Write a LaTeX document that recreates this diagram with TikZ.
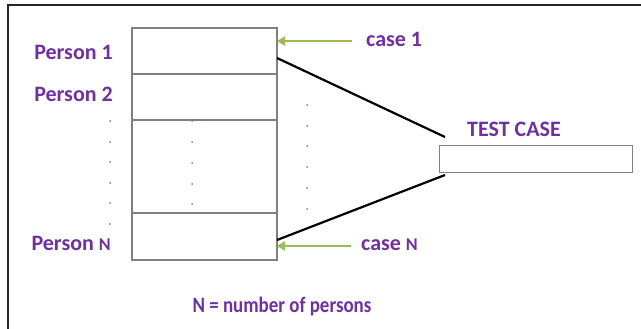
\documentclass[tikz,border=0pt]{standalone}
\usepackage{fontspec}
\setmainfont{Carlito}
\usetikzlibrary{arrows.meta}
\definecolor{lbl}{HTML}{7030A0}
\definecolor{arr}{HTML}{9BBB59}
\definecolor{grid}{HTML}{808080}
\definecolor{dotc}{HTML}{8C7A6A}
\newcommand{\smallN}{{\fontsize{18}{20}\selectfont N}}
\begin{document}
\begin{tikzpicture}[x=1pt,y=-1pt,
  lbltext/.style={text=lbl,font=\bfseries\fontsize{22}{24}\selectfont,inner sep=0pt},
  cellbox/.style={draw=grid,line width=1.4pt,minimum width=145pt,inner sep=0pt,outer sep=0pt},
  link/.style={draw=black,line width=2.2pt},
  ptr/.style={draw=arr,line width=2pt,-{Triangle[length=8pt,width=9pt]}},
  dotmark/.style={fill=dotc,circle,inner sep=0pt,minimum size=2pt}]
\useasboundingbox (0,0) rectangle (641,329);
\fill[white] (0,0) rectangle (641,329);
\draw[line width=1.5pt,black!85] (8,329) -- (8,5) -- (641,5);
% table cells
\node[cellbox,minimum height=46pt,anchor=north west] (c1) at (132,28) {};
\node[cellbox,minimum height=46pt,anchor=north west] (c2) at (132,74) {};
\node[cellbox,minimum height=93pt,anchor=north west] (cm) at (132,120) {};
\node[cellbox,minimum height=47pt,anchor=north west] (cn) at (132,213) {};
% test case box
\node[draw=grid,line width=1.4pt,minimum width=193pt,minimum height=27pt,inner sep=0pt,anchor=north west] (tc) at (439,145) {};
\node[lbltext,anchor=base] (tcl) at (514,137) {TEST CASE};
% labels
\node[lbltext,anchor=base east] (p1) at (113,60) {Person 1};
\node[lbltext,anchor=base east] (p2) at (113,102) {Person 2};
\node[lbltext,anchor=base east] (pn) at (111,250) {Person \smallN};
\node[lbltext,anchor=base west] (k1) at (366,47) {case 1};
\node[lbltext,anchor=base west] (kn) at (361,250) {case \smallN};
\node[lbltext,anchor=base,xscale=0.86] (nn) at (282,312) {N = number of persons};
% connectors
\coordinate (a1) at (277,58);
\coordinate (an) at (277,240);
\coordinate (b1) at (445,137);
\coordinate (bn) at (445,175);
\draw[link] (a1) -- (b1);
\draw[link] (an) -- (bn);
\coordinate (s1) at (352,41);
\coordinate (e1) at (277,41);
\coordinate (sn) at (351,246);
\coordinate (en) at (277,246);
\draw[ptr] (s1) -- (e1);
\draw[ptr] (sn) -- (en);
% dots
\foreach \y in {121,142,162,183,203,224} \node[dotmark] at (110,\y) {};
\foreach \y in {121,142,163,184,204} \node[dotmark] at (192,\y) {};
\foreach \y in {105,126,146,167,188,209} \node[dotmark] at (307,\y) {};
\end{tikzpicture}
\end{document}
